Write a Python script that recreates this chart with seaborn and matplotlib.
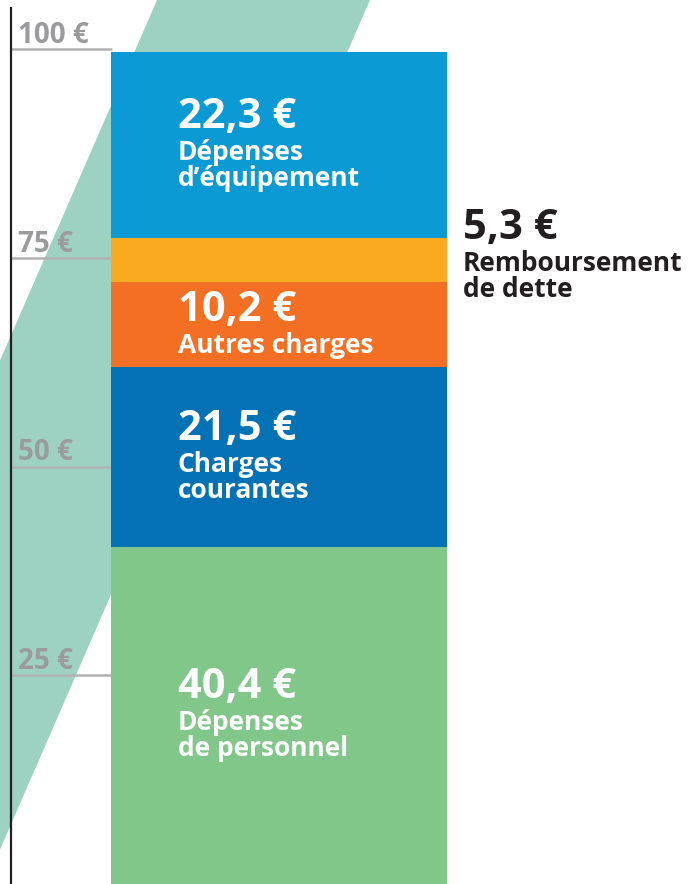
import matplotlib
matplotlib.use("Agg")
import matplotlib.pyplot as plt
import seaborn as sns
import pandas as pd

# postes de dépenses, du bas vers le haut de la barre
postes = ["Dépenses\nde personnel", "Charges\ncourantes", "Autres charges",
          "Remboursement\nde dette", "Dépenses\nd’équipement"]
montants = [40.4, 21.5, 10.2, 5.3, 22.3]
valeurs_txt = ["40,4 €", "21,5 €", "10,2 €", "5,3 €", "22,3 €"]
couleurs = ["#82c78a", "#0572b6", "#f36f23", "#f9aa1f", "#0b9ad3"]
graduations = [25, 50, 75, 100]
grad_txt = ["25 €", "50 €", "75 €", "100 €"]

df = pd.DataFrame({"poste": postes, "montant": montants, "couleur": couleurs, "valeur": valeurs_txt})
df["cumul"] = df["montant"].cumsum()
df["bas"] = df["cumul"] - df["montant"]

sns.set_style("white")
plt.rcParams['font.family'] = ['Open Sans', 'DejaVu Sans']

W, H = 688, 884
fig = plt.figure(figsize=(W / 100, H / 100), dpi=100)
ax = fig.add_axes([0, 0, 1, 1])

# bande diagonale en fond (décor)
band_x = [157, 370, -15, -228]
band_y = [0, 0, 884, 884]
ax.fill([x / W for x in band_x], [1 - y / H for y in band_y],
        color="#9dd2c2", transform=ax.transAxes, zorder=0, lw=0)

# barre empilée : cumuls tracés du plus haut au plus bas
for i in reversed(range(len(df))):
    sns.barplot(x=["budget"], y=[df["cumul"][i]], color=df["couleur"][i],
                saturation=1, width=0.8, linewidth=0, errorbar=None, ax=ax, zorder=2)

# échelles : 8,35 px par euro, barre de 336 px de large
ax.set_xlim(-279 / 420, (W - 279) / 420)
ax.set_ylim(0, H / 8.35)
ax.set_xlabel("")
ax.set_ylabel("")
ax.set_xticks([])
ax.set_yticks([])
for s in ["top", "right", "bottom"]:
    ax.spines[s].set_visible(False)
ax.spines["left"].set_position(("axes", 11 / W))
ax.spines["left"].set_bounds(0, (H - 8) / 8.35)
ax.spines["left"].set_color("#231f20")
ax.spines["left"].set_linewidth(1.6)
ax.spines["left"].set_zorder(3)

# graduations
for v, t in zip(graduations, grad_txt):
    ax.axhline(v, xmin=11 / W, xmax=111 / W, color="#b1b1b3", lw=1.8, zorder=1)
    ax.annotate(t, xy=(18 / W, v), xycoords=("axes fraction", "data"),
                xytext=(0, 6), textcoords="offset pixels", va="baseline", ha="left",
                fontsize=20, fontweight="bold", color="#9b9b9d", zorder=3)

# étiquettes des segments
gap, interligne = 32, 26
for i in range(len(df)):
    centre = df["bas"][i] + df["montant"][i] / 2
    lignes = df["poste"][i].split("\n")
    b0 = -(gap - 29 + 5 + interligne * (len(lignes) - 1)) / 2
    if df["montant"][i] < 8:
        x0, dx, coul, b0 = 0.4, 16, "#231f20", b0 - 4
    else:
        x0, dx, coul = -0.4, 67, "white"
    ax.annotate(df["valeur"][i], xy=(x0, centre), xytext=(dx, -b0),
                textcoords="offset pixels", va="baseline", ha="left",
                fontsize=30, fontweight="bold", color=coul, zorder=4)
    for k, l in enumerate(lignes):
        ax.annotate(l, xy=(x0, centre), xytext=(dx, -(b0 + gap + interligne * k)),
                    textcoords="offset pixels", va="baseline", ha="left",
                    fontsize=19, fontweight="bold", color=coul, zorder=4)

fig.savefig("out.png", dpi=100)
